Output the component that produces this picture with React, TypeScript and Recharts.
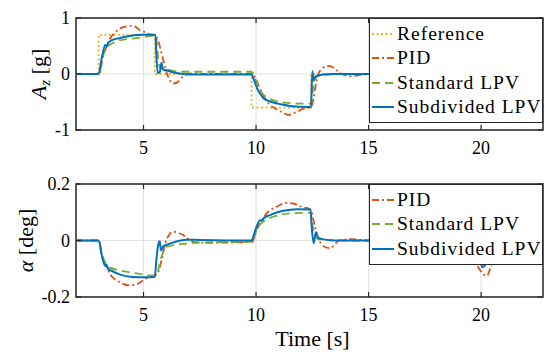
import React from 'react';
import { LineChart, Line, XAxis, YAxis, CartesianGrid, ReferenceArea, Legend } from 'recharts';

const FONT = "'Liberation Serif', 'DejaVu Serif', serif";
const INK = '#262626';
const GRID = '#e2e2e2';

const timeDomain = [2, 22.75];
const timeTicks = [5, 10, 15, 20];
const azTicks = [-1, 0, 1];
const alphaTicks = [-0.2, 0, 0.2];

// A_z [g]
const azRefTime = [2, 3, 3.001, 5.5, 5.501, 9.8, 9.801, 12.45, 12.451, 22.75];
const azRefValue = [0, 0, 0.7, 0.7, 0, 0, -0.6, -0.6, 0, 0];

const azPidTime = [2, 3.05, 3.18, 3.33, 3.5, 3.78, 4.0, 4.22, 4.45, 4.65, 4.81, 5.05, 5.26, 5.5, 5.65, 5.78, 5.93, 6.05, 6.18, 6.33, 6.5, 6.77, 7.2, 7.6, 9.85, 10.0, 10.18, 10.47, 10.9, 11.2, 11.44, 11.73, 12.1, 12.45, 12.55, 12.62, 12.77, 12.95, 13.14, 13.3, 13.44, 13.73, 14.2, 14.6, 15.2, 22.75];
const azPidValue = [0, 0, 0.29, 0.46, 0.62, 0.76, 0.82, 0.85, 0.86, 0.84, 0.79, 0.75, 0.71, 0.69, 0.6, 0.4, 0.17, 0.0, -0.12, -0.17, -0.15, -0.04, 0.01, 0, 0, -0.1, -0.27, -0.48, -0.63, -0.69, -0.73, -0.69, -0.62, -0.59, -0.45, -0.27, 0, 0.1, 0.14, 0.14, 0.11, 0.02, -0.04, -0.02, 0, 0];

const azStdTime = [2, 3.0, 3.2, 3.4, 3.63, 4.07, 4.67, 5.0, 5.4, 5.55, 5.62, 5.73, 6.0, 6.18, 6.76, 7.5, 9.75, 9.85, 10.0, 10.3, 10.5, 11.07, 11.5, 11.96, 12.45, 12.52, 12.6, 12.75, 13.0, 13.5, 14, 22.75];
const azStdValue = [0, 0, 0.33, 0.49, 0.55, 0.61, 0.64, 0.66, 0.68, 0.68, 0.4, 0.11, 0.09, 0.07, 0.04, 0.04, 0.04, 0.02, -0.12, -0.36, -0.42, -0.5, -0.52, -0.53, -0.53, -0.3, -0.1, -0.04, -0.02, 0, 0, 0];

const azSubTime = [2, 3.0, 3.15, 3.3, 3.36, 3.42, 3.5, 3.7, 3.93, 4.37, 4.96, 5.53, 5.57, 5.63, 5.72, 5.8, 5.86, 6.0, 6.3, 6.75, 7.5, 9.8, 9.9, 10.1, 10.25, 10.32, 10.5, 10.77, 11.1, 11.5, 12.32, 12.44, 12.5, 12.56, 12.63, 12.8, 13.0, 13.4, 14, 22.75];
const azSubValue = [0, 0, 0.3, 0.52, 0.49, 0.55, 0.58, 0.62, 0.64, 0.68, 0.7, 0.7, 0.35, 0.02, 0.03, 0.2, 0.08, 0.07, 0.03, 0.0, -0.01, -0.01, -0.1, -0.3, -0.39, -0.43, -0.47, -0.51, -0.54, -0.57, -0.59, -0.59, 0.05, -0.12, -0.05, -0.02, -0.01, 0, 0, 0];

// alpha [deg]
const alPidTime = [2, 3.05, 3.11, 3.33, 3.55, 3.93, 4.37, 4.74, 5.1, 5.48, 5.6, 5.8, 5.96, 6.1, 6.33, 6.77, 7.2, 7.8, 9.85, 9.96, 10.18, 10.47, 10.9, 11.36, 11.66, 12.03, 12.42, 12.62, 12.77, 13.07, 13.29, 13.7, 14.2, 15, 19.65, 19.8, 20.0, 20.25, 20.47, 20.7, 21.0, 21.5, 22, 22.75];
const alPidValue = [0, 0, -0.04, -0.088, -0.123, -0.147, -0.159, -0.153, -0.135, -0.123, -0.12, -0.07, -0.011, 0.015, 0.031, 0.019, -0.005, -0.008, -0.005, 0.025, 0.06, 0.096, 0.119, 0.133, 0.131, 0.119, 0.11, 0.048, 0.007, -0.023, -0.027, 0, 0.005, 0, 0, -0.076, -0.11, -0.125, -0.082, -0.03, 0.01, 0.003, 0, 0];

const alStdTime = [2, 3.0, 3.18, 3.35, 3.55, 4.22, 4.96, 5.5, 5.6, 5.75, 6.03, 6.4, 6.92, 7.5, 9.8, 9.87, 10.02, 10.3, 10.77, 11.51, 12.42, 12.5, 12.6, 12.75, 13.2, 14, 19.7, 19.9, 20.1, 20.3, 20.6, 21.1, 22.75];
const alStdValue = [0, 0, -0.055, -0.085, -0.097, -0.11, -0.12, -0.125, -0.12, -0.07, -0.023, -0.015, -0.011, -0.007, -0.005, 0, 0.037, 0.066, 0.084, 0.096, 0.098, 0.06, 0.015, 0.005, 0.002, 0, 0, -0.04, -0.085, -0.07, -0.03, 0, 0];

const alSubTime = [2, 3.0, 3.18, 3.3, 3.36, 3.42, 3.6, 3.93, 4.52, 5.0, 5.5, 5.58, 5.66, 5.72, 5.78, 5.88, 6.0, 6.4, 6.9, 7.5, 9.8, 9.9, 10.02, 10.18, 10.25, 10.35, 10.62, 11.21, 11.8, 12.42, 12.47, 12.56, 12.66, 12.75, 13.0, 13.5, 19.75, 19.9, 20.05, 20.15, 20.4, 20.8, 21.5, 22.75];
const alSubValue = [0, 0, -0.064, -0.09, -0.086, -0.1, -0.108, -0.12, -0.129, -0.13, -0.129, -0.06, -0.012, -0.003, -0.035, -0.02, -0.016, -0.005, 0.003, 0.002, 0, 0.02, 0.048, 0.072, 0.07, 0.08, 0.09, 0.105, 0.111, 0.11, 0.05, -0.01, 0.03, 0.01, 0.004, 0, 0, -0.04, -0.095, -0.09, -0.05, -0.015, 0, 0];

const zip = (t: number[], v: number[]) => t.map((time, i) => ({ time, value: v[i] }));

const styles = {
  Reference: { color: '#EDB120', dash: '2 2.5', width: 1.8, curve: 'linear' },
  PID: { color: '#D95319', dash: '7 3 2 3', width: 1.8, curve: 'monotone' },
  'Standard LPV': { color: '#77AC30', dash: '8 5', width: 1.8, curve: 'monotone' },
  'Subdivided LPV': { color: '#0072BD', dash: undefined, width: 2, curve: 'monotone' },
};

const azSeries = [
  { name: 'Reference', data: zip(azRefTime, azRefValue) },
  { name: 'PID', data: zip(azPidTime, azPidValue) },
  { name: 'Standard LPV', data: zip(azStdTime, azStdValue) },
  { name: 'Subdivided LPV', data: zip(azSubTime, azSubValue) },
];

const alphaSeries = [
  { name: 'PID', data: zip(alPidTime, alPidValue) },
  { name: 'Standard LPV', data: zip(alStdTime, alStdValue) },
  { name: 'Subdivided LPV', data: zip(alSubTime, alSubValue) },
];

const W = 545;
const PLOT_W = 467;

const LegendBox = ({ names }: { names: string[] }) => (
  <div
    style={{
      background: '#fff',
      border: `1.3px solid ${INK}`,
      padding: '3px 0 3px 2px',
      width: 174,
      boxSizing: 'border-box',
      fontFamily: FONT,
      fontSize: 19.5,
      letterSpacing: 1,
      color: '#000',
    }}
  >
    {names.map((n) => {
      const s = styles[n as keyof typeof styles];
      return (
        <div key={n} style={{ display: 'flex', alignItems: 'center', height: 24.3, whiteSpace: 'nowrap' }}>
          <svg width={22} height={10} style={{ marginRight: 3 }}>
            <line x1={0} x2={22} y1={5} y2={5} stroke={s.color} strokeWidth={s.width} strokeDasharray={s.dash} />
          </svg>
          <span style={{ fontFamily: FONT }}>{n}</span>
        </div>
      );
    })}
  </div>
);

const makeXTick = (plotH: number) => (props: any) => {
  const { x, y, payload } = props;
  return (
    <g>
      <line x1={x} x2={x} y1={y} y2={y - 5} stroke={INK} strokeWidth={1.2} />
      <line x1={x} x2={x} y1={y - plotH} y2={y - plotH + 5} stroke={INK} strokeWidth={1.2} />
      <text x={x} y={y + 24} textAnchor="middle" fill="#000" fontSize={18} fontFamily={FONT}>
        {payload.value}
      </text>
    </g>
  );
};

const makeYTick = (props: any) => {
  const { x, y, payload } = props;
  return (
    <g>
      <line x1={x} x2={x + 5} y1={y} y2={y} stroke={INK} strokeWidth={1.2} />
      <line x1={x + PLOT_W} x2={x + PLOT_W - 5} y1={y} y2={y} stroke={INK} strokeWidth={1.2} />
      <text x={x - 6} y={y} dy="0.35em" textAnchor="end" fill="#000" fontSize={18} fontFamily={FONT}>
        {payload.value}
      </text>
    </g>
  );
};

type PanelProps = {
  height: number;
  bottom: number;
  yDomain: number[];
  yTicks: number[];
  series: { name: string; data: { time: number; value: number }[] }[];
  yLabel: (vb: any) => React.ReactNode;
  xLabel?: boolean;
};

function Panel({ height, bottom, yDomain, yTicks, series, yLabel, xLabel }: PanelProps) {
  const plotH = height - 18 - bottom - 1;
  return (
    <LineChart width={W} height={height} margin={{ top: 18, right: 2, bottom, left: 75 }}>
      <CartesianGrid stroke={GRID} strokeWidth={1.2} horizontalValues={yTicks} verticalValues={timeTicks} />
      <XAxis
        dataKey="time"
        type="number"
        domain={timeDomain}
        ticks={timeTicks}
        allowDataOverflow
        height={1}
        tickSize={0}
        tickMargin={0}
        axisLine={false}
        tickLine={false}
        tick={makeXTick(plotH)}
        label={
          xLabel
            ? {
                content: (p: any) => (
                  <text x={p.viewBox.x + p.viewBox.width / 2 + 3} y={p.viewBox.y + 49} textAnchor="middle" fontSize={22} fontFamily={FONT} fill="#000">
                    Time [s]
                  </text>
                ),
              }
            : undefined
        }
      />
      <YAxis
        type="number"
        domain={yDomain}
        ticks={yTicks}
        allowDataOverflow
        width={1}
        tickSize={0}
        tickMargin={0}
        axisLine={false}
        tickLine={false}
        tick={makeYTick}
        label={{ content: (p: any) => yLabel(p.viewBox) }}
      />
      <ReferenceArea x1={timeDomain[0]} x2={timeDomain[1]} y1={yDomain[0]} y2={yDomain[1]} fill="none" stroke={INK} strokeWidth={1.5} />
      {series.map((s) => {
        const st = styles[s.name as keyof typeof styles];
        return (
          <Line
            key={s.name}
            name={s.name}
            data={s.data}
            dataKey="value"
            type={st.curve as any}
            stroke={st.color}
            strokeWidth={st.width}
            strokeDasharray={st.dash}
            dot={false}
            activeDot={false}
            isAnimationActive={false}
          />
        );
      })}
      <Legend
        layout="horizontal"
        verticalAlign="middle"
        align="center"
        content={() => <LegendBox names={series.map((s) => s.name)} />}
        wrapperStyle={{ left: 369, top: 18, right: 'auto', bottom: 'auto', width: 175, height: 'auto' }}
      />
    </LineChart>
  );
}

export default function App() {
  return (
    <div style={{ position: 'absolute', left: 0, top: 0, width: W, height: 356, background: '#fff' }}>
      <div style={{ position: 'absolute', left: 0, top: 0 }}>
        <Panel
          height={160}
          bottom={29}
          yDomain={[-1, 1]}
          yTicks={azTicks}
          series={azSeries}
          yLabel={(vb) => (
            <text transform={`translate(46,${vb.y + vb.height / 2}) rotate(-90)`} textAnchor="middle" fontSize={22} fontFamily={FONT} fill="#000">
              <tspan fontStyle="italic">A</tspan>
              <tspan fontStyle="italic" fontSize={15} dy={4}>z</tspan>
              <tspan dy={-4}>{' [g]'}</tspan>
            </text>
          )}
        />
      </div>
      <div style={{ position: 'absolute', left: 0, top: 166 }}>
        <Panel
          height={190}
          bottom={58}
          yDomain={[-0.2, 0.2]}
          yTicks={alphaTicks}
          series={alphaSeries}
          xLabel
          yLabel={(vb) => (
            <text transform={`translate(33,${vb.y + vb.height / 2}) rotate(-90)`} textAnchor="middle" fontSize={22} fontFamily={FONT} fill="#000">
              <tspan fontStyle="italic">α</tspan>
              <tspan>{' [deg]'}</tspan>
            </text>
          )}
        />
      </div>
    </div>
  );
}
